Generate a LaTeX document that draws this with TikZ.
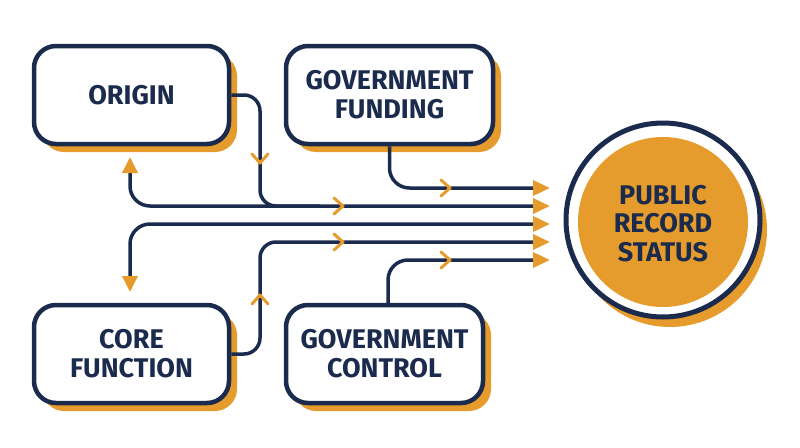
\documentclass[tikz,border=0pt]{standalone}
\usepackage{fontspec}
\setmainfont{Fira Sans}
\usetikzlibrary{arrows.meta,shadows}
\definecolor{navy}{RGB}{27,43,77}
\definecolor{gold}{RGB}{230,155,45}
\begin{document}
\begin{tikzpicture}[x=1pt,y=-1pt,
  box/.style={draw=navy, line width=4.5pt, fill=white, rounded corners=22pt,
    minimum height=98pt, align=center, text=navy,
    font=\bfseries\fontsize{27}{29}\selectfont,
    general shadow={fill=gold, shadow xshift=8pt, shadow yshift=-8pt}},
  conn/.style={draw=navy, line width=3.5pt, rounded corners=20pt},
  tip/.style={-{Triangle[length=17pt,width=15pt,color=gold]}},
  chev/.pic={\draw[gold, line width=3pt, line cap=round, line join=round] (-9,-8) -- (0,0) -- (-9,8);}
]
\useasboundingbox (0,0) rectangle (800,447);
% boxes
\node[box, minimum width=195pt] (origin) at (131.5,95) {ORIGIN};
\node[box, minimum width=207pt] (gf) at (389.5,95) {GOVERNMENT\\FUNDING};
\node[box, minimum width=195pt] (core) at (131.5,354) {CORE\\FUNCTION};
\node[box, minimum width=197pt] (gc) at (384.5,354) {GOVERNMENT\\CONTROL};
% circle
\node[circle, draw=navy, line width=5pt, fill=white, minimum size=194pt,
  general shadow={fill=gold, shadow xshift=7pt, shadow yshift=-10pt}] (pr) at (663,220) {};
\fill[gold] (663,222) circle (85);
\node[text=navy, align=center, font=\bfseries\fontsize{27}{28.5}\selectfont] (prt) at (663,223.5) {PUBLIC\\RECORD\\STATUS};
% coordinates
\coordinate (e1) at (550,188);
\coordinate (e2) at (550,206);
\coordinate (e3) at (550,224);
\coordinate (e4) at (550,242);
\coordinate (e5) at (550,260);
\coordinate (k2) at (260,206);
\coordinate (m2) at (320,206);
\coordinate (k4) at (260,242);
\coordinate (oa) at (130,157);
\coordinate (ca) at (130,292);
% connectors
\draw[conn, tip] (gf.south) |- (e1);
\draw[conn, tip, rounded corners=16pt] (origin.east) -| (k2) -- (e2);
\draw[conn, {Triangle[length=16pt,width=15pt,color=gold]}-] (oa) |- (m2);
\draw[conn, {Triangle[length=16pt,width=15pt,color=gold]}-{Triangle[length=17pt,width=15pt,color=gold]}] (ca) |- (e3);
\draw[conn, tip, rounded corners=16pt] (core.east) -| (k4) -- (e4);
\draw[conn, tip] ([xshift=-1.5pt]gc.north -| gf.south) |- (e5);
% chevrons
\pic at (450,188) {chev};
\pic at (343,206) {chev};
\pic[rotate=-90] at (260,163) {chev};
\pic at (343,242) {chev};
\pic[rotate=90] at (260,295) {chev};
\pic at (450,260) {chev};
\end{tikzpicture}
\end{document}
